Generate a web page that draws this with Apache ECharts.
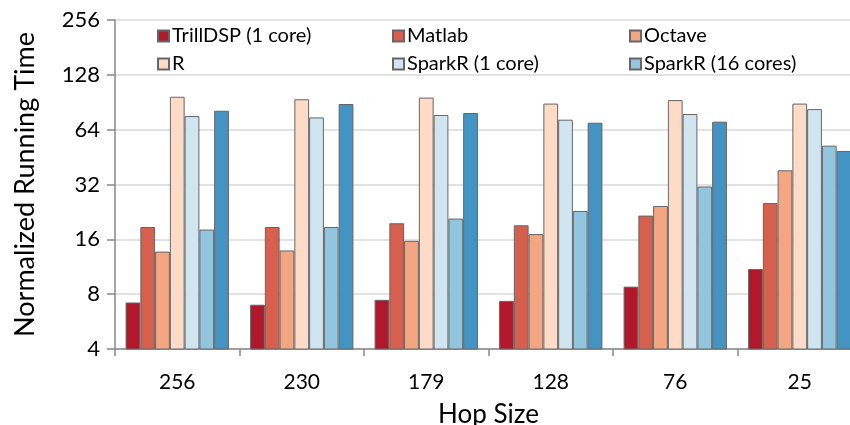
<!DOCTYPE html>
<html><head><meta charset="utf-8">
<script src="https://cdn.jsdelivr.net/npm/echarts@6/dist/echarts.min.js"></script>
<style>html,body{margin:0;padding:0;background:#fff}#c{width:850px;height:425px}</style>
</head><body><div id="c"></div>
<script>
const categories = ['256','230','179','128','76','25'];
const seriesNames = ['TrillDSP (1 core)','Matlab','Octave','R','SparkR (1 core)','SparkR (16 cores)','SparkR (16 cores) '];
const trillDSP = [7.2, 7.0, 7.45, 7.35, 8.8, 11.0];
const matlab = [18.7, 18.7, 19.6, 19.1, 21.6, 25.3];
const octave = [13.7, 13.9, 15.7, 17.1, 24.4, 38.3];
const rVals = [97, 94, 96, 89, 93, 89];
const sparkR1 = [76, 74.7, 77, 72.6, 78, 83];
const sparkR16 = [18.1, 18.7, 20.8, 22.9, 31.2, 52.3];
const seventh = [81.3, 88.5, 79, 69.9, 70.8, 48.9];
const yTicks = [4, 8, 16, 32, 64, 128, 256];
const colors = ['#b2182b','#d6604d','#f4a582','#fddbc7','#d1e5f0','#92c5de','#4393c3'];
const allData = [trillDSP, matlab, octave, rVals, sparkR1, sparkR16, seventh];

const FONT = 'Lato';
const chart = echarts.init(document.getElementById('c'));
const legendBase = {
  orient: 'vertical', top: 21, itemWidth: 11, itemHeight: 11, itemGap: 8,
  textStyle: { fontFamily: FONT, fontSize: 20, color: '#000', padding: [0,0,0,-2] },
  icon: 'rect', selectedMode: false
};
chart.setOption({
  animation: false,
  color: colors,
  textStyle: { fontFamily: FONT },
  legend: [
    Object.assign({}, legendBase, { left: 152, data: [seriesNames[0], seriesNames[3]] }),
    Object.assign({}, legendBase, { left: 387, data: [seriesNames[1], seriesNames[4]] }),
    Object.assign({}, legendBase, { left: 624, data: [seriesNames[2], seriesNames[5]] })
  ],
  grid: { left: 115, top: 20, bottom: 76, width: 747, containLabel: false, outerBoundsMode: 'none' },
  xAxis: {
    type: 'category', data: categories,
    name: 'Hop Size', nameLocation: 'middle', nameGap: 53,
    nameTextStyle: { fontFamily: FONT, fontSize: 26, color: '#000' },
    axisLine: { lineStyle: { color: '#888', width: 1.5 } },
    axisTick: { show: true, length: 7, lineStyle: { color: '#888', width: 1.5 } },
    axisLabel: { fontFamily: FONT, fontSize: 21, color: '#000', margin: 23 }
  },
  yAxis: {
    type: 'log', logBase: 2, min: 4, max: 256,
    name: 'Normalized Running Time', nameLocation: 'middle', nameGap: 76,
    nameTextStyle: { fontFamily: FONT, fontSize: 27, color: '#000' },
    axisLine: { show: true, lineStyle: { color: '#888', width: 1.5 } },
    axisTick: { show: true, length: 8, lineStyle: { color: '#888', width: 1.5 } },
    axisLabel: { fontFamily: FONT, fontSize: 22, color: '#000', margin: 15 },
    splitLine: { show: true, lineStyle: { color: '#d9d9d9', width: 1.5 } },
    minorTick: { show: false }
  },
  series: allData.map((d, i) => ({
    name: seriesNames[i], type: 'bar', data: d,
    barGap: '0%', barCategoryGap: '17%',
    itemStyle: { color: colors[i], borderColor: '#666', borderWidth: 1 }
  }))
});
</script></body></html>
